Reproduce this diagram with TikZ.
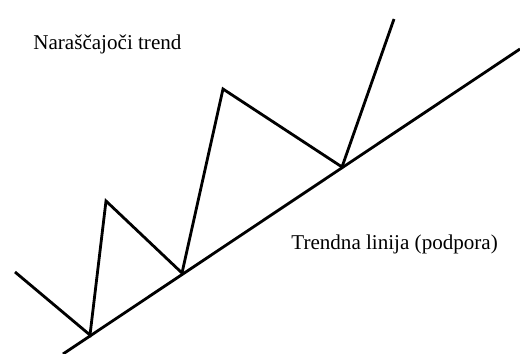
\documentclass[tikz,border=0pt]{standalone}
\usepackage{fontspec}
\setmainfont{Liberation Serif}
\usetikzlibrary{positioning}

\begin{document}
\begin{tikzpicture}[
  x=0.02cm, y=-0.02cm,
  trendline/.style={line width=1.6pt, line join=miter, black},
  label/.style={font=\fontsize{12}{14}\selectfont, inner sep=0pt, anchor=base west}
]
\useasboundingbox (0,0) rectangle (520,354);
% zigzag price
\coordinate (p0) at (15,272);
\coordinate (l1) at (90,335);
\coordinate (h1) at (106,201);
\coordinate (l2) at (182,273);
\coordinate (h2) at (223,89);
\coordinate (l3) at (342,167);
\coordinate (p1) at (394,19);
% support line
\coordinate (s0) at (63,354);
\coordinate (s1) at (520,49);

\draw[trendline] (p0) -- (l1) -- (h1) -- (l2) -- (h2) -- (l3) -- (p1);
\draw[trendline] (s0) -- (s1);

\node[label] (rising) at (33,50) {Naraščajoči trend};
\node[label] (support) at (291,250) {Trendna linija (podpora)};
\end{tikzpicture}
\end{document}
